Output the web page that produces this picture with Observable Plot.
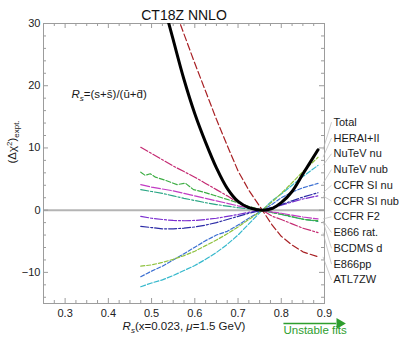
<!DOCTYPE html>
<html><head><meta charset="utf-8">
<script src="https://cdn.jsdelivr.net/npm/d3@7"></script>
<script src="https://cdn.jsdelivr.net/npm/@observablehq/plot@0.6"></script>
<style>
body{margin:0;background:#fff;}
#chart{width:399px;height:337px;}
</style></head><body><div id="chart"></div>
<script>
// ---------- data ----------
const rs        = [0.475,0.50,0.525,0.55,0.575,0.60,0.625,0.65,0.675,0.70,0.725,0.756,0.78,0.80,0.825,0.85,0.885];
const total     = [50.5,42,34,27.4,21,15.5,10.9,6.8,3.5,1.4,0.4,0,0.3,1.2,3.0,5.8,9.7];
const heraI_II  = [-9.0,-8.8,-8.4,-7.9,-7.3,-6.6,-5.7,-4.8,-3.8,-2.7,-1.5,0,1.4,2.7,4.4,6.2,8.5];
const nutevNu   = [-12.3,-11.7,-11.2,-10.5,-9.7,-8.9,-7.9,-6.8,-5.5,-4.0,-2.2,0,1.6,2.6,4.0,5.4,7.2];
const nutevNub  = [-10.7,-9.8,-9.0,-8.0,-7.0,-5.95,-4.9,-4.0,-3.4,-2.4,-1.3,0,1.0,2.0,2.9,3.6,4.3];
const ccfrSiNu  = [-2.6,-2.8,-3.0,-3.0,-2.9,-2.7,-2.4,-2.0,-1.5,-1.0,-0.5,0,0.5,0.9,1.5,2.1,2.8];
const ccfrSiNub = [-1.0,-1.3,-1.5,-1.65,-1.7,-1.65,-1.5,-1.3,-1.0,-0.7,-0.35,0,0.4,0.8,1.3,1.8,2.3];
const ccfrF2    = [4.1,3.7,3.4,3.1,2.7,2.3,1.9,1.5,1.1,0.7,0.35,0,-0.3,-0.5,-0.8,-1.1,-1.4];
const rsE866rat = [0.475,0.485,0.497,0.509,0.532,0.559,0.578,0.597,0.62,0.644,0.683,0.72,0.756,0.78,0.814,0.853,0.885];
const e866rat   = [6.1,5.6,5.85,5.3,4.8,4.1,4.35,3.3,2.9,2.4,1.56,0.7,0,-0.4,-0.85,-1.5,-1.7];
const bcdmsD    = [3.3,3.0,2.7,2.3,1.9,1.55,1.2,0.9,0.65,0.4,0.2,0,-0.4,-0.7,-1.1,-1.45,-1.8];
const e866pp    = [10.1,9.1,8.1,7.1,6.2,5.3,4.3,3.3,2.3,1.2,0.55,0,-1.0,-1.5,-2.2,-2.9,-3.6];
const atl7zw    = [48,43,38,33,28.3,23.6,19.1,14.6,10.4,6.3,3.2,0,-2.5,-4.2,-5.6,-6.7,-7.5];

const seriesNames = ["Total","HERAI+II","NuTeV nu","NuTeV nub","CCFR SI nu","CCFR SI nub","CCFR F2","E866 rat.","BCDMS d","E866pp","ATL7ZW"];
const seriesX = [rs,rs,rs,rs,rs,rs,rs,rsE866rat,rs,rs,rs];
const seriesY = [total,heraI_II,nutevNu,nutevNub,ccfrSiNu,ccfrSiNub,ccfrF2,e866rat,bcdmsD,e866pp,atl7zw];

const xTickLabels = [0.3,0.4,0.5,0.6,0.7,0.8,0.9];
const yTickLabels = [-10,0,10,20,30];
const titleText = "CT18Z NNLO";
const unstableFrom = 0.805, unstableTo = 0.947;

// ---------- styles ----------
const lineColors = ["#000000","#8fc23f","#35b8cc","#3b6fd2","#2b2ba6","#7b2fd0","#c23cc4","#3eae45","#2aa685","#c42a72","#a82024"];
const lineDash   = [null,"4,2","5,2","4,2","8,2,2,2","8,2,2,2","9,2","5,2","8,2,2,2","8,2,2,2","7,3"];
const lineWidth  = [3,1.2,1.2,1.2,1.2,1.2,1.2,1.2,1.2,1.2,1.2];

const W=399,H=337,mL=43,mR=75,mT=23,mB=34;
const xDomain=[0.25,0.9], yDomain=[-15,30];
const xS = d3.scaleLinear(xDomain,[mL,W-mR]);
const yS = d3.scaleLinear(yDomain,[H-mB,mT]);
const frameGray = "#9c9c9c";

// ticks
const xMinor = d3.range(1,26).map(i=>+(0.25+i*0.025).toFixed(3)).filter(v=>!xTickLabels.some(t=>Math.abs(t-v)<1e-6));
const yMinor = d3.range(-14,30,2).filter(v=>v%10!==0);
const dxLen = px => xS.invert(mL+px)-xDomain[0];
const dyLen = px => yS.invert(H-mB-px)-yDomain[0];

// series rows
const rows = seriesNames.map((n,k)=>seriesX[k].map((x,i)=>({name:n,rs:x,v:seriesY[k][i]})));

// label layout
const labelTopPx = 121.7, labelStepPx = 15.77, labelStartPx = 333, leaderEndPx = 331;
const labelRows = seriesNames.map((n,k)=>{
  const xs = seriesX[k], ys = seriesY[k];
  const lastX = xs[xs.length-1], lastY = ys[ys.length-1];
  const ly = yS.invert(labelTopPx + k*labelStepPx);
  return {name:n, x1: xS.invert(xS(lastX)+5), y1: lastY, x2: xS.invert(leaderEndPx), y2: ly, lx: xS.invert(labelStartPx), ly};
});

const marks = [
  Plot.ruleY([0],{stroke:"#b4b4b4",strokeWidth:2}),
  Plot.frame({stroke:frameGray}),
  Plot.ruleX(xTickLabels,{x:d=>d,y1:yDomain[0],y2:yDomain[0]+dyLen(5),stroke:frameGray}),
  Plot.ruleX(xTickLabels,{x:d=>d,y1:yDomain[1],y2:yDomain[1]-dyLen(5),stroke:frameGray}),
  Plot.ruleY(yTickLabels,{y:d=>d,x1:xDomain[0],x2:xDomain[0]+dxLen(5),stroke:frameGray}),
  Plot.ruleY(yTickLabels,{y:d=>d,x1:xDomain[1],x2:xDomain[1]-dxLen(5),stroke:frameGray}),
  Plot.ruleX(xMinor,{x:d=>d,y1:yDomain[0],y2:yDomain[0]+dyLen(3),stroke:frameGray}),
  Plot.ruleX(xMinor,{x:d=>d,y1:yDomain[1],y2:yDomain[1]-dyLen(3),stroke:frameGray}),
  Plot.ruleY(yMinor,{y:d=>d,x1:xDomain[0],x2:xDomain[0]+dxLen(3),stroke:frameGray}),
  Plot.ruleY(yMinor,{y:d=>d,x1:xDomain[1],x2:xDomain[1]-dxLen(3),stroke:frameGray}),
  Plot.axisX({ticks:xTickLabels,tickSize:0,tickPadding:6,tickFormat:d3.format(".1f"),label:null,fontSize:11,fill:"#222"}),
  Plot.axisY({ticks:yTickLabels,tickSize:0,tickPadding:3,label:null,fontSize:11,fill:"#222"}),
];
for (let k=seriesNames.length-1;k>=1;k--) {
  marks.push(Plot.line(rows[k],{x:"rs",y:"v",stroke:lineColors[k],strokeWidth:lineWidth[k],strokeDasharray:lineDash[k],clip:true}));
}
marks.push(Plot.line(rows[0],{x:"rs",y:"v",stroke:lineColors[0],strokeWidth:lineWidth[0],clip:true,curve:"catmull-rom"}));
marks.push(Plot.link(labelRows,{x1:"x1",y1:"y1",x2:"x2",y2:"y2",stroke:"#b8b8b8",strokeWidth:0.7}));
marks.push(Plot.text(labelRows,{x:"lx",y:"ly",text:"name",textAnchor:"start",fontSize:11,fill:"#1a1a1a"}));
marks.push(Plot.text([titleText],{frameAnchor:"top",dy:-13,text:d=>d,fontSize:14,fill:"#111"}));
marks.push(Plot.text(["@@formula"],{frameAnchor:"top-left",dx:28,dy:66,text:d=>d,textAnchor:"start",fontSize:11.5,fill:"#1a1a1a"}));
marks.push(Plot.text(["@@xlabel"],{frameAnchor:"bottom",dy:26,text:d=>d,fontSize:11.5,fill:"#1a1a1a"}));
marks.push(Plot.text(["@@ylabel"],{frameAnchor:"left",dx:-31,rotate:-90,text:d=>d,fontSize:11.5,fill:"#1a1a1a"}));
marks.push(Plot.link([0],{x1:()=>unstableFrom,x2:()=>unstableTo-0.02,y1:()=>yDomain[0],y2:()=>yDomain[0],dy:20,stroke:"#2e9e2e",strokeWidth:1.3}));
marks.push(Plot.dot([0],{x:()=>unstableTo-0.012,y:()=>yDomain[0],dy:20,symbol:"triangle",rotate:90,r:4,fill:"#2e9e2e",stroke:null}));
marks.push(Plot.text(["Unstable fits"],{x:()=>unstableFrom,y:()=>yDomain[0],dy:27,text:d=>d,textAnchor:"start",fontSize:11.5,fill:"#2e9e2e"}));

const svg = Plot.plot({
  width:W,height:H,marginLeft:mL,marginRight:mR,marginTop:mT,marginBottom:mB,
  x:{domain:xDomain},y:{domain:yDomain},
  style:{fontFamily:"'Liberation Sans', Arial, sans-serif",fontSize:"11px",background:"#fff",overflow:"visible"},
  marks
});
document.getElementById("chart").appendChild(svg);

function rich(key, parts){
  const t = d3.select(svg).selectAll("text").filter(function(){return this.textContent===key;});
  t.text(null);
  parts.forEach(p=>{
    const s=t.append("tspan").text(p.t);
    if(p.i) s.attr("font-style","italic");
    if(p.fs) s.attr("font-size",p.fs);
    if(p.dy) s.attr("dy",p.dy);
  });
}
rich("@@formula",[{t:"R",i:1},{t:"s",i:1,fs:8,dy:3},{t:"=(s+s\u0304)/(u\u0304+d\u0304)",dy:-3}]);
rich("@@xlabel",[{t:"R",i:1},{t:"s",i:1,fs:8,dy:3},{t:"(x=0.023, ",dy:-3},{t:"\u03bc",i:1},{t:"=1.5 GeV)"}]);
rich("@@ylabel",[{t:"(\u0394\u03c7"},{t:"2",fs:8,dy:-4},{t:")",dy:4},{t:"expt.",fs:8,dy:3}]);
</script></body></html>
